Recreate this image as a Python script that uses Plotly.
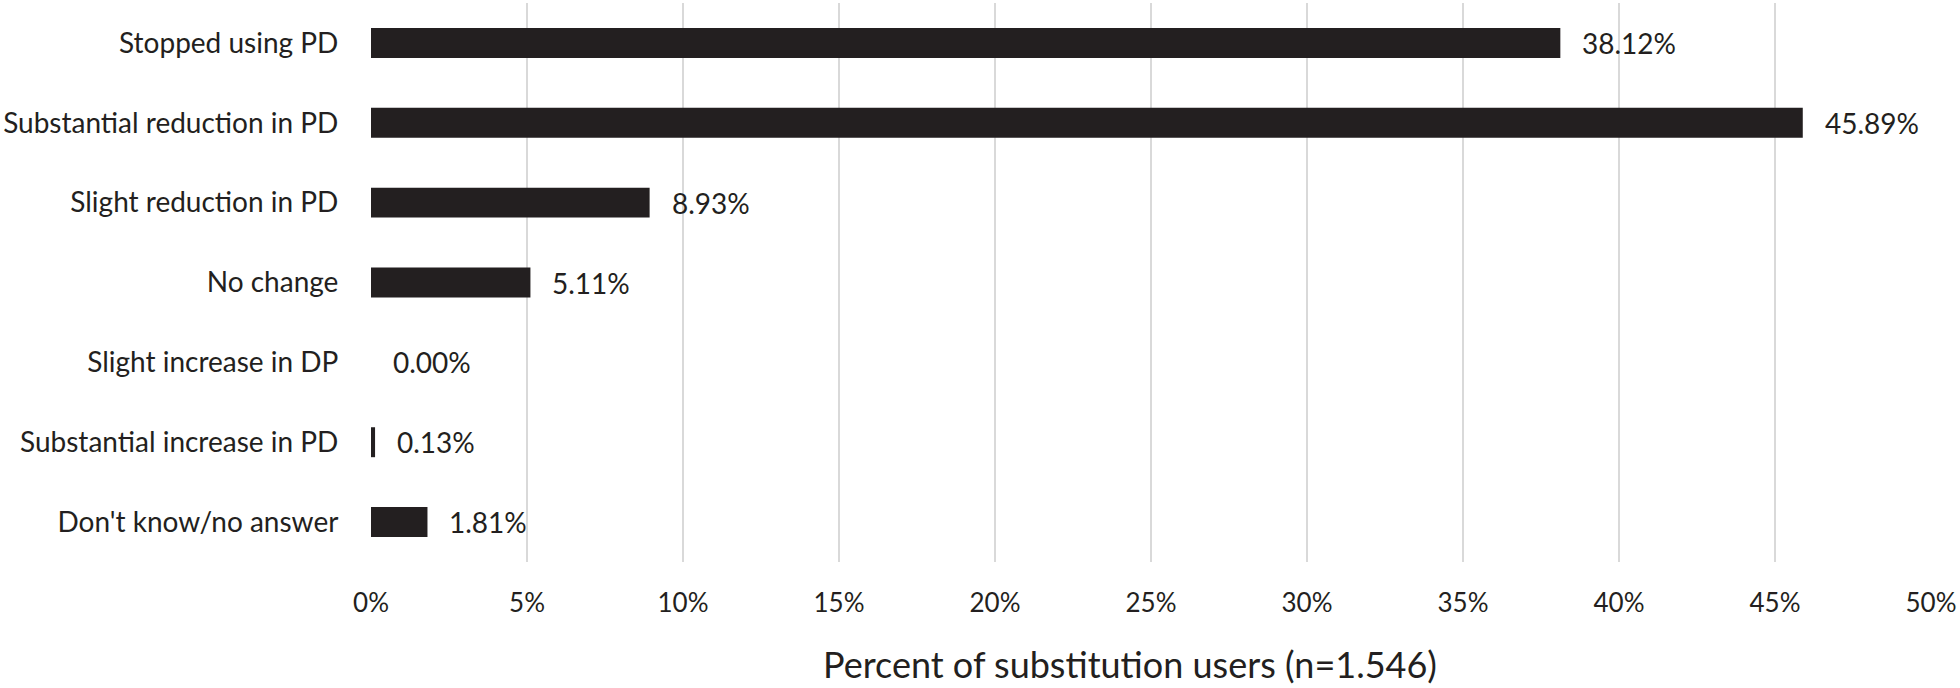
import plotly.graph_objects as go

categories = [
    "Stopped using PD",
    "Substantial reduction in PD",
    "Slight reduction in PD",
    "No change",
    "Slight increase in DP",
    "Substantial increase in PD",
    "Don't know/no answer",
]
values = [38.12, 45.89, 8.93, 5.11, 0.00, 0.13, 1.81]
labels = ["38.12%", "45.89%", "8.93%", "5.11%", "0.00%", "0.13%", "1.81%"]
tick_vals = [0, 5, 10, 15, 20, 25, 30, 35, 40, 45, 50]
tick_text = ["0%", "5%", "10%", "15%", "20%", "25%", "30%", "35%", "40%", "45%", "50%"]
x_title = "Percent of substitution users (n=1.546)"

FONT = "Lato, 'Open Sans', sans-serif"
TXT = "#231f20"

fig = go.Figure()
fig.add_trace(go.Bar(
    x=values, y=categories, orientation="h",
    marker=dict(color="#231f20", line=dict(width=0)),
    hoverinfo="skip",
))

for v, c, t in zip(values, categories, labels):
    fig.add_annotation(x=v, y=c, xref="x", yref="y", text=t, showarrow=False,
                       xanchor="left", yanchor="middle", xshift=20,
                       font=dict(family=FONT, size=28, color=TXT))

fig.add_annotation(x=0.4865, y=-0.182, xref="paper", yref="paper", text=x_title,
                   showarrow=False, xanchor="center", yanchor="middle",
                   font=dict(family=FONT, size=36, color=TXT))

fig.update_layout(
    template="none",
    width=1960, height=688,
    margin=dict(l=371, r=29, t=3, b=126, pad=0),
    paper_bgcolor="white", plot_bgcolor="white",
    bargap=0.625,
    showlegend=False,
    font=dict(family=FONT, color=TXT),
)
fig.update_xaxes(
    range=[0, 50], tickvals=tick_vals, ticktext=tick_text,
    showgrid=True, gridcolor="#d9d9d9", gridwidth=1.5,
    zeroline=False, showline=False,
    ticks="outside", ticklen=18, tickcolor="rgba(0,0,0,0)",
    tickfont=dict(family=FONT, size=26, color=TXT),
    automargin=False, fixedrange=True,
)
fig.update_yaxes(
    autorange="reversed", showgrid=False, zeroline=False, showline=False,
    ticks="outside", ticklen=26, tickcolor="rgba(0,0,0,0)",
    tickfont=dict(family=FONT, size=28, color=TXT),
    automargin=False, fixedrange=True,
)

fig.write_html(
    "out.html",
    config={"displayModeBar": False},
    post_script="document.body.style.margin='0';document.body.style.overflow='hidden';",
)
